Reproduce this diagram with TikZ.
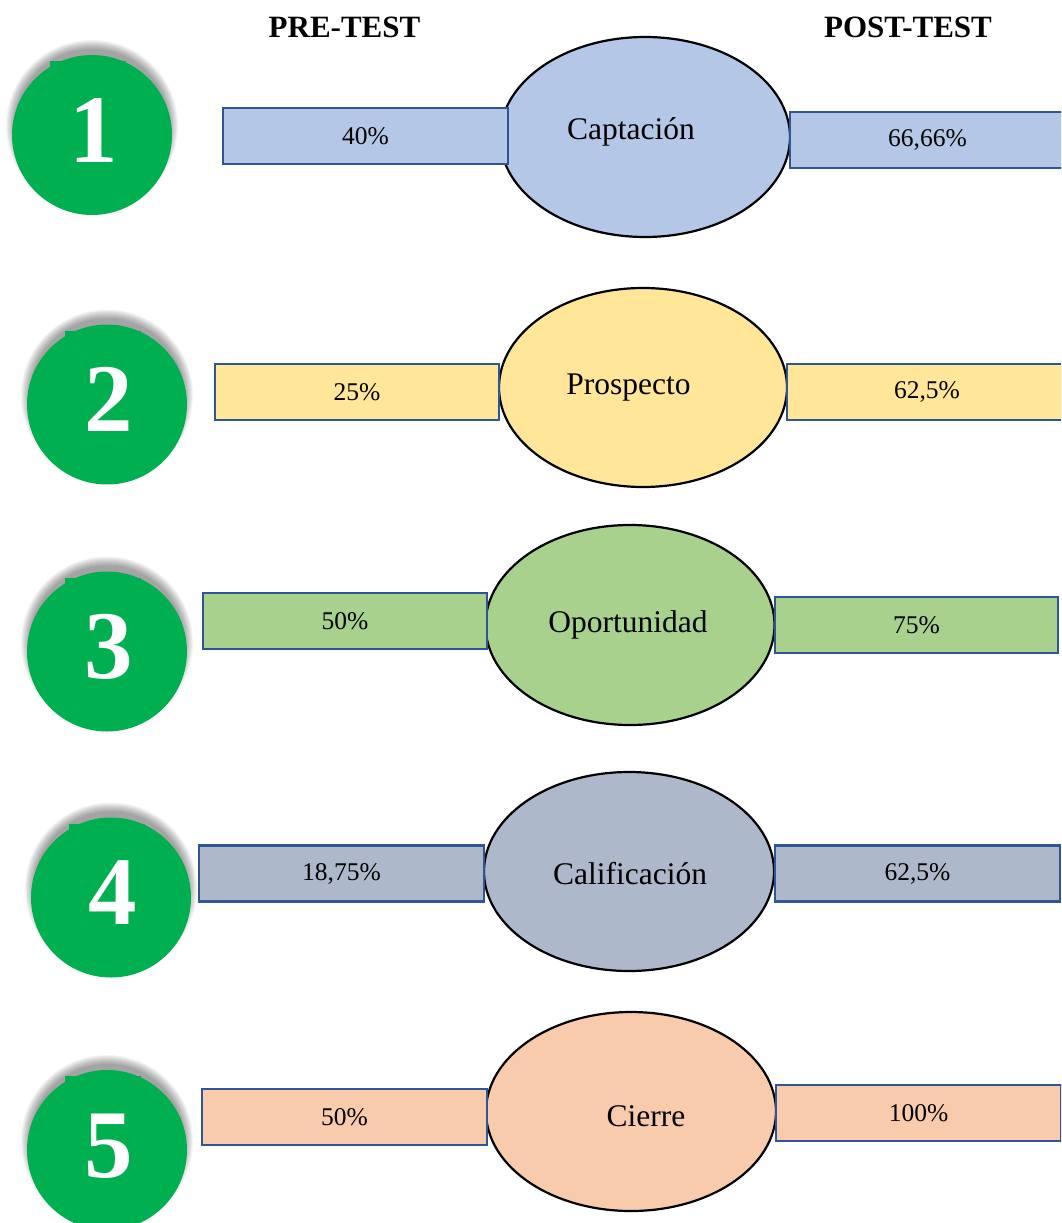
\documentclass[tikz,border=0pt]{standalone}
\usepackage{fontspec}
\setmainfont{Liberation Serif}
\usetikzlibrary{shapes.geometric}
\definecolor{numgreen}{HTML}{00B050}
\definecolor{barblue}{HTML}{2F5597}
\definecolor{cA}{HTML}{B4C7E7}
\definecolor{cB}{HTML}{FFE699}
\definecolor{cC}{HTML}{A9D18E}
\definecolor{cD}{HTML}{ADB9CA}
\definecolor{cE}{HTML}{F8CBAD}
\begin{document}
\begin{tikzpicture}[x=1pt,y=-1pt,
  numc/.style={circle, fill=numgreen, minimum size=160pt, inner sep=0pt},
  numtxt/.style={text=white, font=\fontsize{97}{100}\selectfont\bfseries, anchor=base, inner sep=0pt},
  ell/.style={ellipse, draw=black, line width=2.2pt, minimum width=290pt, minimum height=200pt, inner sep=0pt},
  bar/.style={rectangle, draw=barblue, line width=2.2pt, minimum height=56pt, inner sep=0pt, font=\fontsize{25.5}{30}\selectfont},
  elltxt/.style={anchor=base, inner sep=0pt, font=\fontsize{31.5}{36}\selectfont},
  head/.style={anchor=base, inner sep=0pt, font=\fontsize{31}{36}\selectfont\bfseries}]
\useasboundingbox (0,0) rectangle (1061,1223);
\clip (0,0) rectangle (1061,1223);
% headers
\node[head] (pre) at (344.5,38) {PRE-TEST};
\node[head] (post) at (908,38) {POST-TEST};
% number circles with soft shadow
\foreach \n/\cx/\cy in {1/92/135, 2/107/404.5, 3/107/651.5, 4/111/897.5, 5/107/1150}{
  \foreach \r in {86,85,...,77}{
    \fill[black, opacity=0.045] (\cx,\cy-9) circle[radius=\r];
  }
  \fill[numgreen] (\cx-42,\cy-74) rectangle (\cx+34,\cy-55);
  \node[numc] (c\n) at (\cx,\cy) {};
  \node[numtxt] (d\n) at (\cx+2,\cy+27) {\n};
}
% ellipses
\node[ell, fill=cA] (e1) at (645,137) {};
\node[ell, fill=cB, minimum width=288pt, minimum height=199pt] (e2) at (643,387.5) {};
\node[ell, fill=cC, minimum width=289pt] (e3) at (630,625) {};
\node[ell, fill=cD, minimum height=199pt] (e4) at (629,871.5) {};
\node[ell, fill=cE, minimum height=199pt] (e5) at (631,1111.5) {};
% bars
\node[bar, fill=cA, minimum width=285pt] (l1) at (365.5,136) {40\%};
\node[bar, fill=cA, minimum width=275pt] (r1) at (927.5,140) {66,66\%};
\node[bar, fill=cB, minimum width=284pt] (l2) at (357,392) {25\%};
\node[bar, fill=cB, minimum width=280pt] (r2) at (927,392) {62,5\%};
\node[bar, fill=cC, minimum width=284pt] (l3) at (345,621) {50\%};
\node[bar, fill=cC, minimum width=283pt] (r3) at (916.5,625) {75\%};
\node[bar, fill=cD, minimum width=285pt] (l4) at (341.5,873.5) {18,75\%};
\node[bar, fill=cD, minimum width=285pt] (r4) at (917.5,873.5) {62,5\%};
\node[bar, fill=cE, minimum width=285pt] (l5) at (344.5,1117) {50\%};
\node[bar, fill=cE, minimum width=285pt] (r5) at (918.5,1113) {100\%};
% ellipse labels
\node[elltxt] (t1) at (631,139) {Captación};
\node[elltxt] (t2) at (628.5,394) {Prospecto};
\node[elltxt] (t3) at (628,632) {Oportunidad};
\node[elltxt] (t4) at (630,884) {Calificación};
\node[elltxt] (t5) at (646,1126) {Cierre};
\end{tikzpicture}
\end{document}
